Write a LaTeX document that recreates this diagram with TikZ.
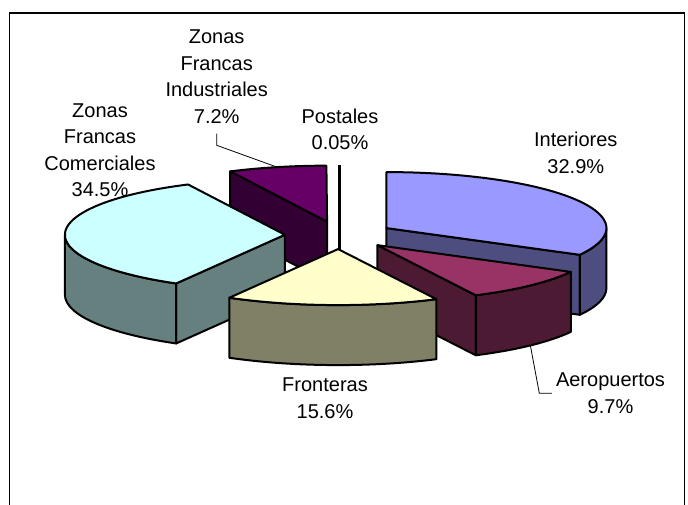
\documentclass[tikz,border=0pt]{standalone}
\usepackage{fontspec}
\setmainfont{Liberation Sans}
\usetikzlibrary{calc}
\definecolor{intTop}{HTML}{9999FF}
\definecolor{intSide}{HTML}{4D4D80}
\definecolor{aerTop}{HTML}{993366}
\definecolor{aerSide}{HTML}{4D1A33}
\definecolor{froTop}{HTML}{FFFFCC}
\definecolor{froSide}{HTML}{808066}
\definecolor{zfcTop}{HTML}{CCFFFF}
\definecolor{zfcSide}{HTML}{668080}
\definecolor{zfiTop}{HTML}{660066}
\definecolor{zfiSide}{HTML}{330033}
\tikzset{
  slicepart/.style={draw=black, line width=2pt, line join=round},
  lab/.style={align=center, font=\fontsize{20}{26.5}\selectfont, inner sep=4pt, anchor=base},
  leader/.style={draw=black, line width=0.8pt},
  frame/.style={draw=black, line width=1.5pt}
}
\begin{document}
\begin{tikzpicture}[x=1pt, y=1pt, x radius=220, y radius=56]
\useasboundingbox (0,0) rectangle (688,505);
% frame
\draw[frame] (9.5,-5) -- (9.5,492) -- (684.5,492) -- (684.5,-5);
% pie centre and exploded apexes
\coordinate (C) at (339.5,269.8);
\coordinate (Iap) at ($(C)+(30.75:54.6 and 13.9)$);
\coordinate (Aap) at ($(C)+(-45.97:54.6 and 13.9)$);
\coordinate (Fap) at ($(C)+(-91.53:54.6 and 13.9)$);
\coordinate (Zap) at ($(C)+(178.25:54.6 and 13.9)$);
\coordinate (Yap) at ($(C)+(103.15:54.6 and 13.9)$);
\coordinate (Pap) at ($(C)+(90.09:54.6 and 13.9)$);
% Postales
\draw[line width=2.5pt] ($(Pap)+(0,56)$) -- ($(Pap)+(0,-60)$);
% Zonas Francas Industriales
\filldraw[slicepart, fill=zfiSide] (Yap) -- ($(Yap)+(116.12:220 and 56)$) -- ++(0,-60) -- ($(Yap)+(0,-60)$) -- cycle;
\filldraw[slicepart, fill=zfiTop] (Yap) -- ($(Yap)+(90.18:220 and 56)$) arc[start angle=90.18, end angle=116.12] -- cycle;
% Interiores
\filldraw[slicepart, fill=intSide] (Iap) -- ($(Iap)+(-28.5:220 and 56)$) -- ++(0,-60) -- ($(Iap)+(0,-60)$) -- cycle;
\filldraw[slicepart, fill=intSide] ($(Iap)+(-28.5:220 and 56)$) arc[start angle=-28.5, end angle=0] -- ++(0,-60) arc[start angle=0, end angle=-28.5] -- cycle;
\filldraw[slicepart, fill=intTop] (Iap) -- ($(Iap)+(-28.5:220 and 56)$) arc[start angle=-28.5, end angle=90] -- cycle;
% Zonas Francas Comerciales
\filldraw[slicepart, fill=zfcSide] (Zap) -- ($(Zap)+(240.38:220 and 56)$) -- ++(0,-60) -- ($(Zap)+(0,-60)$) -- cycle;
\filldraw[slicepart, fill=zfcSide] ($(Zap)+(180:220 and 56)$) arc[start angle=180, end angle=240.38] -- ++(0,-60) arc[start angle=240.38, end angle=180] -- cycle;
\filldraw[slicepart, fill=zfcTop] (Zap) -- ($(Zap)+(116.12:220 and 56)$) arc[start angle=116.12, end angle=240.38] -- cycle;
% Aeropuertos
\filldraw[slicepart, fill=aerSide] (Aap) -- ($(Aap)+(-63.44:220 and 56)$) -- ++(0,-60) -- ($(Aap)+(0,-60)$) -- cycle;
\filldraw[slicepart, fill=aerSide] ($(Aap)+(-63.44:220 and 56)$) arc[start angle=-63.44, end angle=-28.5] -- ++(0,-60) arc[start angle=-28.5, end angle=-63.44] -- cycle;
\filldraw[slicepart, fill=aerTop] (Aap) -- ($(Aap)+(-63.44:220 and 56)$) arc[start angle=-63.44, end angle=-28.5] -- cycle;
% Fronteras
\filldraw[slicepart, fill=froSide] ($(Fap)+(-119.62:220 and 56)$) arc[start angle=-119.62, end angle=-63.44] -- ++(0,-60) arc[start angle=-63.44, end angle=-119.62] -- cycle;
\filldraw[slicepart, fill=froTop] (Fap) -- ($(Fap)+(-119.62:220 and 56)$) arc[start angle=-119.62, end angle=-63.44] -- cycle;
% leader anchor points on the rims
\coordinate (zfirim) at ($(Yap)+(103.15:220 and 56)$);
\coordinate (aerrim) at ($(Aap)+(-45.97:220 and 56)+(0,-60)$);
% labels (anchored at the baseline of their last line)
\node[lab] (zfilab) at (216.7,381.7) {Zonas\\Francas\\Industriales\\7.2\%};
\node[lab] (poslab) at (340,355) {Postales\\0.05\%};
\node[lab] (zfclab) at (100,308.3) {Zonas\\Francas\\Comerciales\\34.5\%};
\node[lab] (intlab) at (575.8,331.7) {Interiores\\32.9\%};
\node[lab] (frolab) at (325,86.7) {Fronteras\\15.6\%};
\node[lab] (aerlab) at (610.5,91.7) {Aeropuertos\\9.7\%};
% leaders
\draw[leader] ($(zfilab.south)+(0,-6)$) -- ++(0,-11.7) -- (zfirim);
\draw[leader] (aerrim) -- ($(aerlab.west)+(-12.5,0)$) -- (aerlab.west);
\end{tikzpicture}
\end{document}
